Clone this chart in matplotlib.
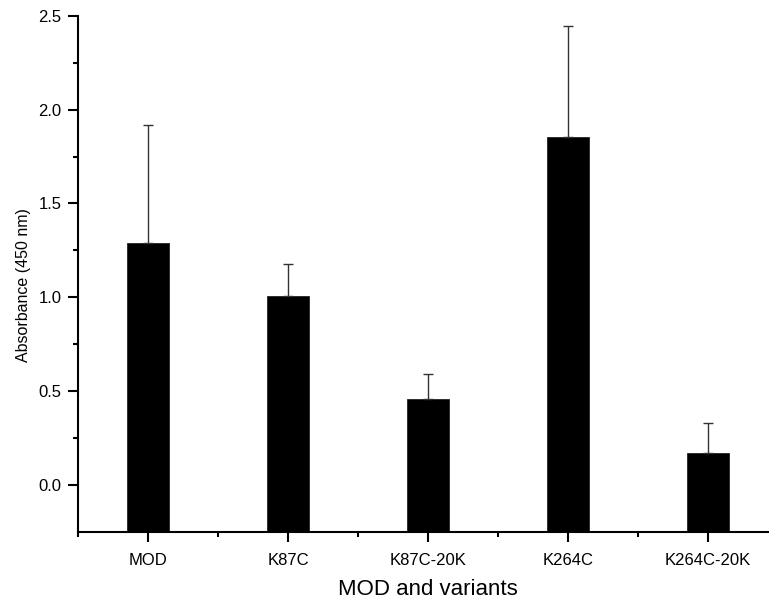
import numpy as np
import matplotlib
matplotlib.use("Agg")
import matplotlib.pyplot as plt
from matplotlib.ticker import FixedLocator

# data
variants = ["MOD", "K87C", "K87C-20K", "K264C", "K264C-20K"]
absorbance = [1.287, 1.009, 0.457, 1.855, 0.171]
err_up = [0.632, 0.166, 0.135, 0.592, 0.157]

plt.rcParams['font.family'] = ['Liberation Sans', 'DejaVu Sans']

fig = plt.figure(figsize=(7.69, 6), dpi=100)
ax = fig.add_axes([78/769, 1 - 532/600, 700/769, (532 - 15.7)/600])

ymin, ymax = -0.25, 2.5
x = np.arange(len(variants))

# Origin-style bars start at the bottom of the axis
ax.bar(x, np.array(absorbance) - ymin, bottom=ymin, width=0.3,
       color='black', edgecolor='#222222', linewidth=0.6, zorder=2)
ax.errorbar(x, absorbance, yerr=[np.zeros(len(err_up)), err_up], fmt='none',
            ecolor='#333333', elinewidth=1.0, capsize=3.6, capthick=1.0, zorder=3)

ax.set_xlim(-0.5, 4.5)
ax.set_ylim(ymin, ymax)

ax.spines['top'].set_visible(False)
ax.spines['right'].set_visible(False)
for s in ['left', 'bottom']:
    ax.spines[s].set_linewidth(1.5)

ax.set_xticks(x)
ax.set_xticklabels(variants)
ax.xaxis.set_minor_locator(FixedLocator(np.arange(-0.5, 4.6, 1.0)))
ax.set_yticks(np.arange(0, 2.51, 0.5))
ax.set_yticklabels(["%.1f" % v for v in np.arange(0, 2.51, 0.5)])
ax.yaxis.set_minor_locator(FixedLocator(np.arange(0.25, 2.5, 0.5)))

ax.tick_params(axis='both', which='major', direction='out', length=7, width=1.5,
               labelsize=12)
ax.tick_params(axis='both', which='minor', direction='out', length=3.5, width=1.5)
ax.tick_params(axis='x', which='major', pad=8)
ax.tick_params(axis='y', which='major', pad=5)

ax.set_ylabel("Absorbance (450 nm)", fontsize=11.5)
ax.yaxis.set_label_coords(-0.067, 0.479)
ax.set_xlabel("MOD and variants", fontsize=16)
ax.xaxis.set_label_coords(0.5, -0.091)

fig.savefig("out.png", dpi=100)
